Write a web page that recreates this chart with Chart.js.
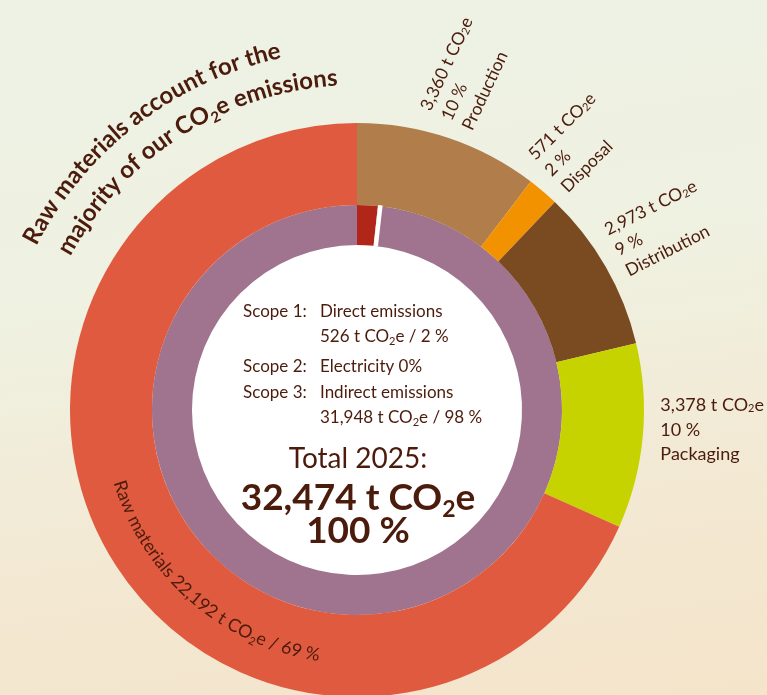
<!DOCTYPE html>
<html>
<head>
<meta charset="utf-8">
<script src="https://cdn.jsdelivr.net/npm/chart.js@4.4.1/dist/chart.umd.min.js"></script>
<style>
html,body{margin:0;padding:0;width:767px;height:695px;overflow:hidden;
  background:linear-gradient(172deg,#edf2e5 0%,#eff1e1 40%,#f3e8d2 75%,#f4e4ca 100%);}
#wrap{position:absolute;left:0;top:0;width:767px;height:720px;}
</style>
</head>
<body>
<div id="wrap"><canvas id="c"></canvas></div>
<script>
// emission sources (outer ring), clockwise from 12 o'clock
var sources = ['Production', 'Disposal', 'Distribution', 'Packaging', 'Raw materials'];
var sourceValues = [3360, 571, 2973, 3378, 22192];
var sourcePercent = [10, 2, 9, 10, 69];
var sourceColors = ['#b07d4b', '#f39200', '#7a4b21', '#c7d300', '#e05a3f'];

// scopes (inner ring)
var scopes = ['Scope 1', 'Scope 2', 'Scope 3'];
var scopeValues = [526, 0, 31948];
var scopePercent = [2, 0, 98];
var scopeColors = ['#b2261a', '#ffffff', '#a0738f'];

var title = ['Raw materials account for the', 'majority of our CO{2}e emissions'];
var total = 32474;
var year = 2025;

var TXT = '#4b1b0c';
var FONT = 'Lato';
// rotation of the straight labels (deg) for the first four slices
var labelRot = [-65, -45, -27, 0];

function fmt(n){ return n.toLocaleString('en-US'); }

// "{2}" marks a subscript 2
function parts(str){
  var out = [];
  str.split(/(\{2\})/).forEach(function(p){
    if(p === '{2}') out.push({t:'2', sub:true});
    else if(p) out.push({t:p, sub:false});
  });
  return out;
}
function font(size, weight, sub){
  return weight + ' ' + (sub ? Math.round(size*0.62) : size) + 'px ' + FONT;
}
function richWidth(ctx, str, size, weight){
  var w = 0;
  parts(str).forEach(function(p){ ctx.font = font(size, weight, p.sub); w += ctx.measureText(p.t).width; });
  return w;
}
function drawRich(ctx, str, x, y, size, weight, align){
  var w = richWidth(ctx, str, size, weight);
  var sx = align === 'center' ? x - w/2 : (align === 'right' ? x - w : x);
  ctx.textAlign = 'left';
  parts(str).forEach(function(p){
    ctx.font = font(size, weight, p.sub);
    ctx.fillText(p.t, sx, y + (p.sub ? size*0.2 : 0));
    sx += ctx.measureText(p.t).width;
  });
}
// text along a circle; clockwise = tops outward, else tops inward
function drawArcText(ctx, str, cx, cy, r, centerDeg, size, weight, clockwise){
  var glyphs = [];
  parts(str).forEach(function(p){
    p.t.split('').forEach(function(ch){
      ctx.font = font(size, weight, p.sub);
      glyphs.push({ch:ch, sub:p.sub, w:ctx.measureText(ch).width});
    });
  });
  var tot = glyphs.reduce(function(s, g){ return s + g.w; }, 0);
  var c = centerDeg * Math.PI / 180;
  var a = clockwise ? c - tot/r/2 : c + tot/r/2;
  ctx.textAlign = 'center';
  ctx.textBaseline = 'alphabetic';
  glyphs.forEach(function(g){
    var mid = clockwise ? a + g.w/2/r : a - g.w/2/r;
    ctx.save();
    ctx.translate(cx + r*Math.cos(mid), cy + r*Math.sin(mid));
    ctx.rotate(clockwise ? mid + Math.PI/2 : mid - Math.PI/2);
    ctx.font = font(size, weight, g.sub);
    ctx.fillText(g.ch, 0, g.sub ? size*0.2 : 0);
    ctx.restore();
    a = clockwise ? a + g.w/r : a - g.w/r;
  });
}

var labelsPlugin = {
  id: 'labels',
  beforeDatasetsDraw: function(chart){
    var ctx = chart.ctx;
    var a = chart.getDatasetMeta(1).data[0];
    ctx.save();
    ctx.fillStyle = '#ffffff';
    ctx.beginPath();
    ctx.arc(a.x, a.y, a.innerRadius + 1, 0, Math.PI*2);
    ctx.fill();
    ctx.restore();
  },
  afterDatasetsDraw: function(chart){
    var ctx = chart.ctx;
    var outer = chart.getDatasetMeta(0).data;
    var inner = chart.getDatasetMeta(1).data;
    var cx = outer[0].x, cy = outer[0].y, R = outer[0].outerRadius;
    ctx.save();

    // scope 2 (0 %) shown as a white cut in the inner ring
    var s2 = inner[1];
    var ca = s2.startAngle + 0.012;
    ctx.strokeStyle = '#ffffff';
    ctx.lineWidth = 4.5;
    ctx.beginPath();
    ctx.moveTo(cx + s2.innerRadius*Math.cos(ca), cy + s2.innerRadius*Math.sin(ca));
    ctx.lineTo(cx + (s2.outerRadius + 1)*Math.cos(ca), cy + (s2.outerRadius + 1)*Math.sin(ca));
    ctx.stroke();

    ctx.fillStyle = TXT;
    ctx.textBaseline = 'middle';

    // straight labels outside the ring
    for(var i = 0; i < 4; i++){
      var el = outer[i];
      var mid = (el.startAngle + el.endAngle) / 2 - 0.027;
      var r = R + 17;
      var lines = [fmt(sourceValues[i]) + ' t CO{2}e', sourcePercent[i] + ' %', sources[i]];
      ctx.save();
      ctx.translate(cx + r*Math.cos(mid), cy + r*Math.sin(mid));
      ctx.rotate(labelRot[i] * Math.PI / 180);
      var lh = i === 3 ? 24.5 : 23;
      lines.forEach(function(t, k){
        drawRich(ctx, t, 0, (k - 1) * lh, i === 3 ? 18 : 17.5, 'normal', 'left');
      });
      ctx.restore();
    }

    // raw materials label along the ring
    var rawLabel = sources[4] + ' ' + fmt(sourceValues[4]) + ' t CO{2}e / ' + sourcePercent[4] + ' %';
    drawArcText(ctx, rawLabel, cx, cy, R - 33, 131, 18, 'normal', false);

    // curved title
    drawArcText(ctx, title[0], cx, cy, R + 73, -127.5, 24, 'bold', true);
    drawArcText(ctx, title[1], cx, cy, R + 38, -122.6, 24, 'bold', true);

    // centre text
    ctx.textBaseline = 'alphabetic';
    var lx = cx - 114, rx = cx - 37;
    drawRich(ctx, scopes[0] + ':', lx, cy - 93, 17, 'normal', 'left');
    drawRich(ctx, 'Direct emissions', rx, cy - 93, 17, 'normal', 'left');
    drawRich(ctx, fmt(scopeValues[0]) + ' t CO{2}e / ' + scopePercent[0] + ' %', rx, cy - 68, 17, 'normal', 'left');
    drawRich(ctx, scopes[1] + ':', lx, cy - 38, 17, 'normal', 'left');
    drawRich(ctx, 'Electricity ' + scopePercent[1] + '%', rx, cy - 38, 17, 'normal', 'left');
    drawRich(ctx, scopes[2] + ':', lx, cy - 12, 17, 'normal', 'left');
    drawRich(ctx, 'Indirect emissions', rx, cy - 12, 17, 'normal', 'left');
    drawRich(ctx, fmt(scopeValues[2]) + ' t CO{2}e / ' + scopePercent[2] + ' %', rx, cy + 13, 17, 'normal', 'left');

    drawRich(ctx, 'Total ' + year + ':', cx + 1, cy + 58, 28, 'normal', 'center');
    drawRich(ctx, fmt(total) + ' t CO{2}e', cx + 1, cy + 100, 37, 'bold', 'center');
    drawRich(ctx, '100 %', cx + 1, cy + 133, 37, 'bold', 'center');
    ctx.restore();
  }
};

var chart = new Chart(document.getElementById('c'), {
  type: 'doughnut',
  data: {
    labels: sources,
    datasets: [
      {data: sourceValues, backgroundColor: sourceColors, borderWidth: 0, weight: 82},
      {data: scopeValues, backgroundColor: scopeColors, borderWidth: 0, weight: 40}
    ]
  },
  options: {
    responsive: true,
    maintainAspectRatio: false,
    animation: false,
    cutout: '57.5%',
    layout: {padding: {left: 70, right: 123, top: 123, bottom: 23}},
    plugins: {legend: {display: false}, tooltip: {enabled: false}}
  },
  plugins: [labelsPlugin]
});
</script>
</body>
</html>
